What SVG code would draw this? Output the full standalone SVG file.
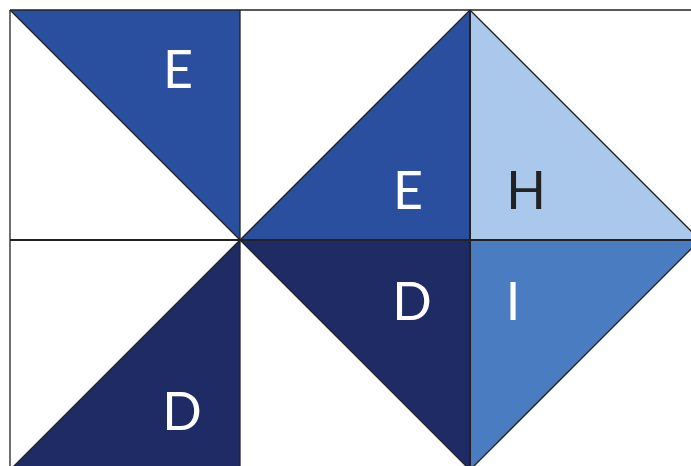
<svg xmlns="http://www.w3.org/2000/svg" width="691" height="466" viewBox="0 0 691 466">
<style>
.e{fill:#2a4f9f}
.d{fill:#1f2b65}
.h{fill:#a9c8eb}
.i{fill:#4a7cc1}
.edge{fill:none;stroke:#222;stroke-width:1.3}
.thick{fill:none;stroke:#222;stroke-width:2}
.lbl{font-family:Lato,"Noto Sans",sans-serif;font-size:52px;fill:#fff;text-anchor:middle}
.dark{fill:#222}
</style>
<rect width="691" height="466" fill="#fff"/>
<g id="patch-e1">
<polygon class="e" points="10,10 240,10 240,240"/>
<text class="lbl" x="178" y="88">E</text>
</g>
<g id="patch-e2">
<polygon class="e" points="240,240 470,10 470,240"/>
<text class="lbl" x="408" y="209">E</text>
</g>
<g id="patch-h">
<polygon class="h" points="470,10 470,240 700,240"/>
<text class="lbl dark" x="526" y="209">H</text>
</g>
<g id="patch-d1">
<polygon class="d" points="240,240 470,240 470,470"/>
<text class="lbl" x="412" y="320">D</text>
</g>
<g id="patch-i">
<polygon class="i" points="470,240 700,240 470,470"/>
<text class="lbl" x="513" y="320">I</text>
</g>
<g id="patch-d2">
<polygon class="d" points="240,240 240,470 10,470"/>
<text class="lbl" x="182" y="430">D</text>
</g>
<g id="connectors">
<line class="edge" x1="10" y1="10" x2="691" y2="10"/>
<line class="edge" x1="10" y1="10" x2="10" y2="466"/>
<line class="edge" x1="240" y1="10" x2="240" y2="466"/>
<line class="thick" x1="470" y1="10" x2="470" y2="466"/>
<line class="thick" x1="10" y1="240" x2="691" y2="240"/>
<line class="edge" x1="10" y1="10" x2="240" y2="240"/>
<line class="edge" x1="240" y1="240" x2="470" y2="10"/>
<line class="edge" x1="470" y1="10" x2="700" y2="240"/>
<line class="edge" x1="240" y1="240" x2="470" y2="470"/>
<line class="edge" x1="700" y1="240" x2="470" y2="470"/>
<line class="edge" x1="240" y1="240" x2="10" y2="470"/>
</g>
</svg>
